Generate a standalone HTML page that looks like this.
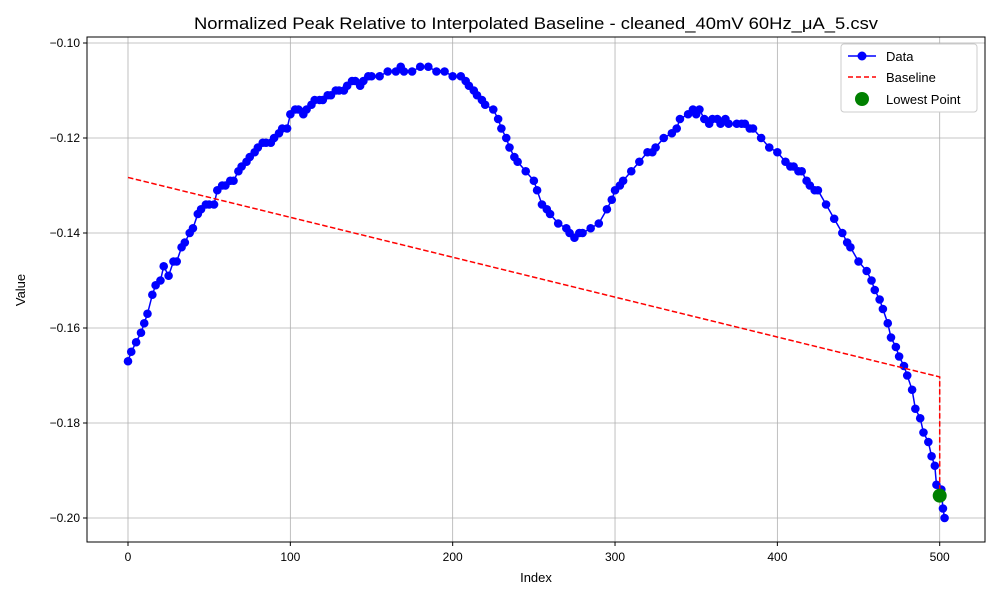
<!DOCTYPE html>
<html><head><meta charset="utf-8"><style>
body{margin:0;background:#fff;font-family:"Liberation Sans","DejaVu Sans",sans-serif}
svg text{font-family:"Liberation Sans","DejaVu Sans",sans-serif}
</style></head><body>
<svg id="chart" width="1000" height="600" xmlns="http://www.w3.org/2000/svg">
<rect width="1000" height="600" fill="#fff"/>
<text x="194" y="29" font-size="17" textLength="684" lengthAdjust="spacingAndGlyphs">Normalized Peak Relative to Interpolated Baseline - cleaned_40mV 60Hz_μA_5.csv</text>
<g id="grid"></g>
<g id="axes"></g>
<g id="series"></g>
<rect x="87" y="37" width="898" height="505" fill="none" stroke="#000" stroke-width="1"/>
<text x="536" y="582" font-size="13" text-anchor="middle">Index</text>
<text transform="translate(25,290) rotate(-90)" font-size="13" text-anchor="middle">Value</text>
<g>
<rect x="841" y="44" width="136" height="68" fill="#fff" stroke="#ccc" rx="3"/>
<g><line x1="848" y1="56" x2="876" y2="56" stroke="#0000ff" stroke-width="1.5"/><circle cx="862" cy="56" r="4.5" fill="#0000ff"/><text x="886" y="61" font-size="13">Data</text></g>
<g><line x1="848" y1="77" x2="876" y2="77" stroke="#ff0000" stroke-width="1.5" stroke-dasharray="5,3"/><text x="886" y="82" font-size="13">Baseline</text></g>
<g><circle cx="862" cy="99" r="7" fill="green"/><text x="886" y="104" font-size="13">Lowest Point</text></g>
</g>
</svg>
<script>
const xIdx = [0,2,5,8,10,12,15,17,20,22,25,28,30,33,35,38,40,43,45,48,50,53,55,58,60,63,65,68,70,73,75,78,80,83,85,88,90,93,95,98,100,103,105,108,110,113,115,118,120,123,125,128,130,133,135,138,140,143,145,148,150,155,160,165,168,170,175,180,185,190,195,200,205,208,210,213,215,218,220,225,228,230,233,235,238,240,245,250,252,255,258,260,265,270,272,275,278,280,285,290,295,298,300,303,305,310,315,320,323,325,330,335,338,340,345,348,350,352,355,358,360,363,365,368,370,375,378,380,383,385,390,395,400,405,408,410,413,415,418,420,423,425,430,435,440,443,445,450,455,458,460,463,465,468,470,473,475,478,480,483,485,488,490,493,495,497,498,500,501,502,503];
const yVal = [-0.167,-0.165,-0.163,-0.161,-0.159,-0.157,-0.153,-0.151,-0.150,-0.147,-0.149,-0.146,-0.146,-0.143,-0.142,-0.140,-0.139,-0.136,-0.135,-0.134,-0.134,-0.134,-0.131,-0.130,-0.130,-0.129,-0.129,-0.127,-0.126,-0.125,-0.124,-0.123,-0.122,-0.121,-0.121,-0.121,-0.120,-0.119,-0.118,-0.118,-0.115,-0.114,-0.114,-0.115,-0.114,-0.113,-0.112,-0.112,-0.112,-0.111,-0.111,-0.110,-0.110,-0.110,-0.109,-0.108,-0.108,-0.109,-0.108,-0.107,-0.107,-0.107,-0.106,-0.106,-0.105,-0.106,-0.106,-0.105,-0.105,-0.106,-0.106,-0.107,-0.107,-0.108,-0.109,-0.110,-0.111,-0.112,-0.113,-0.114,-0.116,-0.118,-0.120,-0.122,-0.124,-0.125,-0.127,-0.129,-0.131,-0.134,-0.135,-0.136,-0.138,-0.139,-0.140,-0.141,-0.140,-0.140,-0.139,-0.138,-0.135,-0.133,-0.131,-0.130,-0.129,-0.127,-0.125,-0.123,-0.123,-0.122,-0.120,-0.119,-0.118,-0.116,-0.115,-0.114,-0.115,-0.114,-0.116,-0.117,-0.116,-0.116,-0.117,-0.116,-0.117,-0.117,-0.117,-0.117,-0.118,-0.118,-0.120,-0.122,-0.123,-0.125,-0.126,-0.126,-0.127,-0.127,-0.129,-0.130,-0.131,-0.131,-0.134,-0.137,-0.140,-0.142,-0.143,-0.146,-0.148,-0.150,-0.152,-0.154,-0.156,-0.159,-0.162,-0.164,-0.166,-0.168,-0.170,-0.173,-0.177,-0.179,-0.182,-0.184,-0.187,-0.189,-0.193,-0.195,-0.194,-0.198,-0.200];
const baselineX = [0,500,500];
const baselineY = [-0.1283,-0.1703,-0.1953];
const lowestX = [500];
const lowestY = [-0.1953];
const xTicks = [0,100,200,300,400,500];
const yTicks = [-0.20,-0.18,-0.16,-0.14,-0.12,-0.10];
const yTickLabels = ["\u22120.20","\u22120.18","\u22120.16","\u22120.14","\u22120.12","\u22120.10"];

const NS="http://www.w3.org/2000/svg";
const sx = v => 128 + v*1.6234;
const sy = v => 43 + (-0.10 - v)*4750;
function mk(tag, attrs, parent){const e=document.createElementNS(NS,tag);for(const k in attrs)e.setAttribute(k,attrs[k]);document.getElementById(parent).appendChild(e);return e;}

xTicks.forEach(t=>{
  const g=mk('line',{x1:sx(t),x2:sx(t),y1:37,y2:542,stroke:'#b0b0b0','stroke-width':0.8},'grid');
  
  
  mk('line',{x1:sx(t),x2:sx(t),y1:542,y2:546,stroke:'#000'},'axes');
  const l=mk('text',{x:sx(t),y:561,'font-size':12,'text-anchor':'middle'},'axes');
  l.textContent=t;
  
  
});
yTicks.forEach((t,i)=>{
  const g=mk('line',{x1:87,x2:985,y1:sy(t),y2:sy(t),stroke:'#b0b0b0','stroke-width':0.8},'grid');
  
  
  mk('line',{x1:83,x2:87,y1:sy(t),y2:sy(t),stroke:'#000'},'axes');
  const l=mk('text',{x:80,y:sy(t)+4,'font-size':12,'text-anchor':'end'},'axes');
  l.textContent=yTickLabels[i];
  
  
});
const dl=mk('polyline',{points:xIdx.map((x,i)=>sx(x)+','+sy(yVal[i])).join(' '),fill:'none',stroke:'#0000ff','stroke-width':1.5},'series');


xIdx.forEach((x,i)=>{
  const c=mk('circle',{cx:sx(x),cy:sy(yVal[i]),r:4.3,fill:'#0000ff'},'series');
  
  
});
const bl=mk('polyline',{points:baselineX.map((x,i)=>sx(x)+','+sy(baselineY[i])).join(' '),fill:'none',stroke:'#ff0000','stroke-width':1.5,'stroke-dasharray':'5.5,2.5'},'series');


lowestX.forEach((x,i)=>{
  const c=mk('circle',{cx:sx(x),cy:sy(lowestY[i]),r:7,fill:'green'},'series');
  
  
});
</script>
</body></html>
